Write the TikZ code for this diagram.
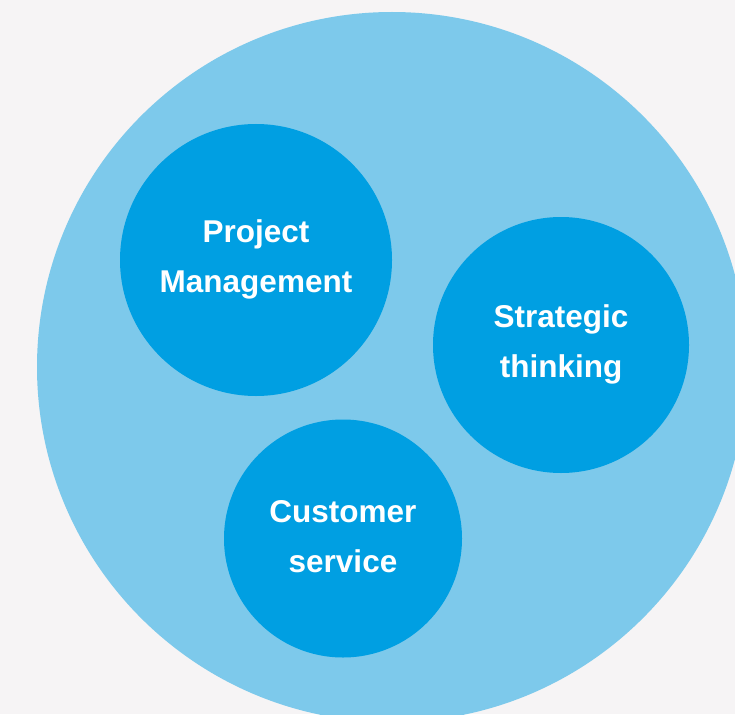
\documentclass[tikz,border=0pt]{standalone}
\usepackage{fontspec}
\setmainfont{Liberation Sans}
\definecolor{bgc}{HTML}{F6F4F5}
\definecolor{outerc}{HTML}{7DC9EB}
\definecolor{innerc}{HTML}{009FE2}
\tikzset{
  bub/.style={circle, fill=innerc, draw=none, inner sep=0pt},
  lbl/.style={text=white, font=\bfseries\fontsize{31.5}{50}\selectfont, align=center, inner sep=0pt},
}
\begin{document}
\begin{tikzpicture}[x=1pt,y=-1pt]
\useasboundingbox (0,0) rectangle (735,714);
\fill[bgc] (0,0) rectangle (735,714);
\clip (0,0) rectangle (735,714);
\node[circle, fill=outerc, inner sep=0pt, minimum size=710pt] (outer) at (392,367) {};
\node[bub, minimum size=272pt] (pm) at (256,260) {};
\node[bub, minimum size=256pt] (st) at (561,345) {};
\node[bub, minimum size=238pt] (cs) at (343,538.5) {};
\node[lbl] (pmt) at (256,259.2) {Project\\Management};
\node[lbl] (stt) at (561,344.2) {Strategic\\thinking};
\node[lbl] (cst) at (343,536.3) {Customer\\service};
\end{tikzpicture}
\end{document}
